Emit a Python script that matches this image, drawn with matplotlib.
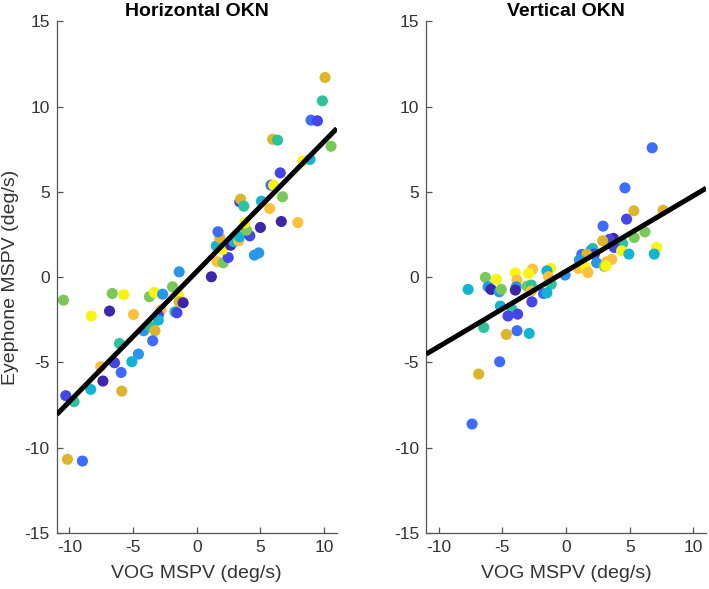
import numpy as np
import matplotlib
matplotlib.use("Agg")
import matplotlib.pyplot as plt

plt.rcParams["font.family"] = ["Liberation Sans", "DejaVu Sans"]
plt.rcParams["axes.unicode_minus"] = False

# parula-like palette, one colour per subject
palette = ["#3E26A8", "#4646E8", "#3D6CFB", "#2896EA", "#14B3D4",
           "#2DC19C", "#7BC85A", "#DDB52C", "#FBC13C", "#F7F414"]

# ---- horizontal OKN: VOG vs eyephone MSPV (deg/s) ----
h_vog = [-10.47, -6.64, -5.73, -3.72, -3.33, -2.68, -1.90, -1.43, -1.38, 1.15,
         1.61, 2.08, 2.47, 2.05, 1.54, 2.66, 2.92, 3.30, 3.36, 1.82,
         1.67, 4.17, 3.90, 3.78, 5.00, 4.53, 4.87, 6.64, 7.94, 5.73,
         3.38, 3.44, 3.70, 5.08, 6.74, 5.83, 6.04, 6.56, 8.33, 8.90,
         5.96, 6.35, 10.55, 8.98, 9.48, 9.87, 10.08,
         -1.38, -1.07, -1.72, -1.56, -8.28, -6.85, -4.97, -2.81, -3.02,
         -3.02, -4.17, -3.59, -3.28, -3.46, -6.07, -4.58, -5.10, -6.46, -7.55,
         -5.94, -7.37, -5.89, -8.33, -10.29, -9.64, -10.16, -8.98]
h_eye = [-1.35, -0.96, -1.03, -1.15, -0.90, -1.00, -0.57, -1.05, 0.31, 0.02,
         0.90, 0.84, 1.15, 1.62, 1.83, 1.87, 2.07, 2.13, 2.36, 2.30,
         2.66, 2.42, 2.75, 3.18, 2.91, 1.29, 1.42, 3.26, 3.20, 4.02,
         4.41, 4.57, 4.16, 4.45, 4.71, 5.39, 5.39, 6.11, 6.80, 6.90,
         8.08, 8.03, 7.67, 9.20, 9.16, 10.33, 11.70,
         -1.45, -1.50, -2.03, -2.09, -2.28, -1.99, -2.19, -1.93, -2.23,
         -2.52, -3.14, -2.91, -3.14, -3.73, -3.89, -4.51, -4.96, -5.02, -5.25,
         -5.59, -6.09, -6.68, -6.58, -6.95, -7.30, -10.68, -10.78]
h_col = [6, 6, 9, 6, 9, 3, 6, 9, 3, 0,
         8, 6, 1, 9, 4, 0, 4, 8, 4, 7,
         2, 1, 6, 9, 0, 3, 3, 0, 8, 8,
         1, 7, 5, 4, 6, 2, 9, 1, 9, 4,
         7, 5, 6, 2, 1, 5, 7,
         7, 0, 5, 1, 9, 0, 8, 8, 1,
         4, 3, 5, 7, 2, 5, 3, 4, 1, 8,
         2, 0, 7, 4, 1, 5, 7, 2]
h_slope, h_icpt = 0.762, 0.33

# ---- vertical OKN ----
v_vog = [6.76, 4.62, 4.75, 5.32, 7.62, 2.90, 6.19, 5.35, 3.71, 3.39,
         2.87, 4.44, 3.78, 4.36, 4.93, 7.10, 6.92, 2.09, 1.93, 2.22,
         1.23, 1.62, 1.04, 2.40, 3.58, 3.19, 3.00, 3.13, 0.96, 1.54,
         1.70, -0.08, -1.20, -1.51, -1.38, -1.17, -2.64, -2.95, -3.99, -3.86,
         -3.92, -3.99, -6.34, -5.48, -7.70, -6.13, -5.90, -5.25, -5.09, -3.08,
         -2.74, -2.74, -2.69, -1.78, -1.51, -5.17, -4.25, -4.57, -3.81, -6.47,
         -3.86, -2.90, -4.70, -5.22, -6.87, -7.39]
v_eye = [7.58, 5.23, 3.40, 3.89, 3.92, 2.99, 2.65, 2.32, 2.27, 2.21,
         2.13, 1.97, 1.74, 1.54, 1.35, 1.74, 1.35, 1.68, 1.54, 1.35,
         1.33, 1.33, 1.00, 0.84, 1.04, 0.90, 0.64, 0.66, 0.51, 0.57,
         0.27, 0.12, 0.51, 0.37, 0.02, -0.41, 0.47, 0.22, 0.25, -0.18,
         -0.57, -0.76, -0.02, -0.13, -0.72, -0.57, -0.72, -0.86, -0.72, -0.53,
         -0.47, -0.82, -1.45, -0.96, -0.92, -1.70, -1.89, -2.28, -2.17, -2.95,
         -3.14, -3.30, -3.36, -4.96, -5.68, -8.61]
v_col = [2, 2, 1, 7, 7, 2, 6, 6, 0, 1,
         7, 5, 1, 9, 4, 9, 4, 5, 4, 1,
         2, 7, 3, 3, 8, 8, 6, 9, 8, 9,
         8, 3, 9, 4, 8, 5, 8, 9, 9, 8,
         3, 0, 6, 9, 4, 3, 0, 3, 6, 6,
         5, 8, 1, 2, 4, 4, 5, 1, 1, 5,
         2, 4, 7, 2, 7, 2]
v_slope, v_icpt = 0.442, 0.35

panels = [("Horizontal OKN", h_vog, h_eye, h_col, h_slope, h_icpt),
          ("Vertical OKN", v_vog, v_eye, v_col, v_slope, v_icpt)]

fig = plt.figure(figsize=(7.09, 5.89), dpi=100)
axes = [fig.add_axes([0.080, 0.095, 0.395, 0.869]),
        fig.add_axes([0.601, 0.095, 0.395, 0.869])]

axc = "#333333"
for ax, (title, xs, ys, cs, m, b) in zip(axes, panels):
    ax.scatter(xs, ys, s=64, c=[palette[i] for i in cs], linewidths=0, zorder=2)
    lx = np.array([-11, 11])
    ax.plot(lx, m * lx + b, color="black", lw=3.6, zorder=3, solid_capstyle="butt")
    ax.set_xlim(-11, 11)
    ax.set_ylim(-15, 15)
    ax.set_xticks([-10, -5, 0, 5, 10])
    ax.set_yticks([-15, -10, -5, 0, 5, 10, 15])
    ax.set_title(title, fontsize=14, fontweight="bold", pad=3.5)
    ax.set_xlabel("VOG MSPV (deg/s)", fontsize=14, color=axc, labelpad=7)
    for side in ("top", "right"):
        ax.spines[side].set_visible(False)
    for side in ("left", "bottom"):
        ax.spines[side].set_color("#555555")
        ax.spines[side].set_linewidth(0.9)
    ax.tick_params(direction="in", length=4, width=0.9, color="#555555",
                   labelcolor=axc, labelsize=12.5, pad=5)

axes[0].set_ylabel("Eyephone MSPV (deg/s)", fontsize=14, color=axc, labelpad=4)

fig.savefig("out.png", dpi=100)
